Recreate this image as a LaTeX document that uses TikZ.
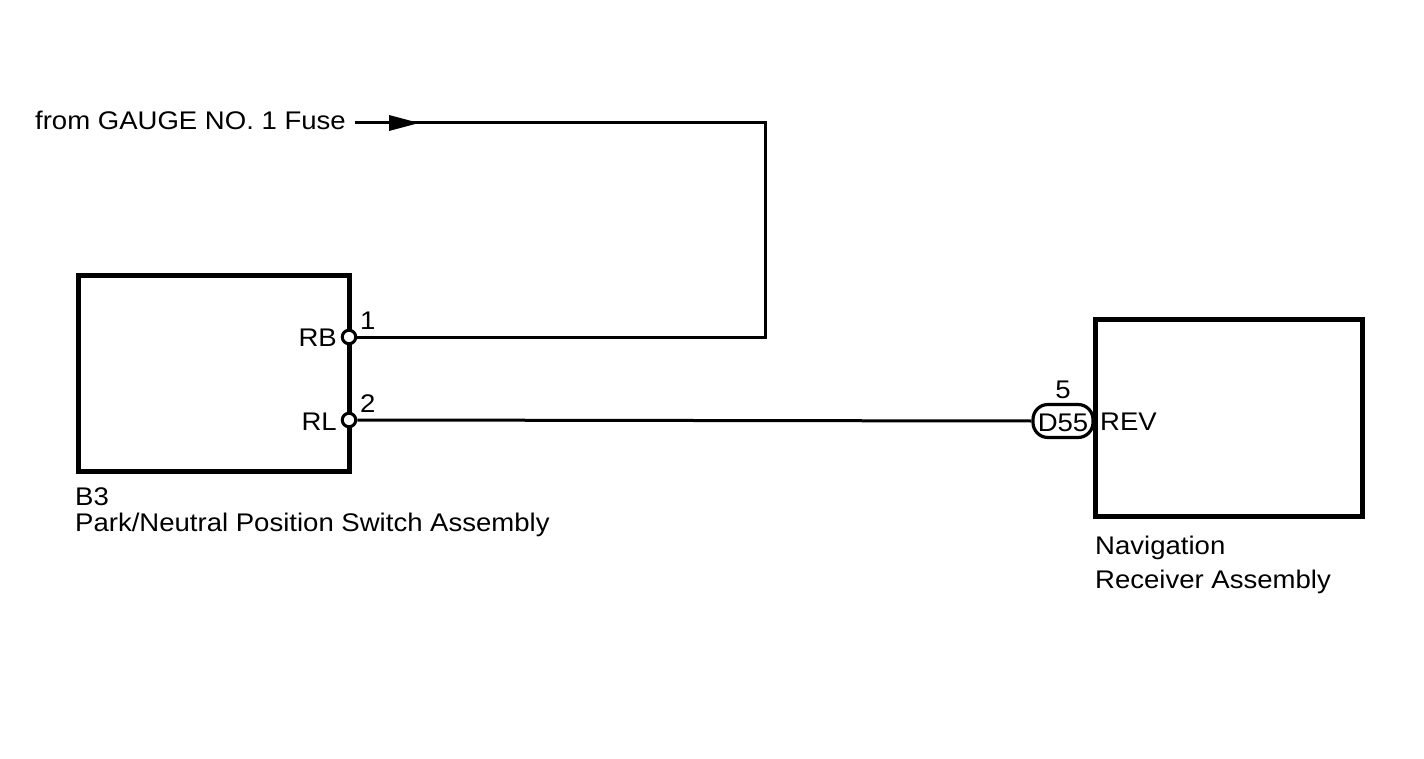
\documentclass[tikz,border=0pt]{standalone}
\usepackage{fontspec}
\setmainfont[FakeStretch=1.08]{Liberation Sans}
\begin{document}
\begin{tikzpicture}[x=1pt,y=-1pt,
  every node/.style={font=\fontsize{25.5}{30}\selectfont, inner sep=0pt},
  pinno/.style={anchor=base west},
  unitbox/.style={draw, line width=5pt},
  wire/.style={line width=3pt},
  pin/.style={circle, draw, line width=3pt, fill=white, minimum size=13.5pt, inner sep=0pt},
  lbl/.style={anchor=base west},
  conn/.style={draw, line width=3.2pt, rectangle, rounded corners=15pt, minimum width=60pt, minimum height=33pt, inner sep=0pt},
]
\useasboundingbox (0,0) rectangle (1424,759);
% boxes
\draw[unitbox] (78,276) rectangle (349,471);
\draw[unitbox] (1095,319) rectangle (1362,516);
% coordinates
\coordinate (src) at (355,123);
\coordinate (c1) at (765,123);
\coordinate (c2) at (765,337);
% pins and connector
\node[conn] (d55) at (1063,421) {};
\node[pin] (rb) at (349,337) {};
\node[pin] (rl) at (349,420) {};
% wires
\draw[wire] (src) -- (c1) -- (c2) -- (rb.east);
\draw[wire] (rl.east) -- (d55.west);
% arrowhead
\fill (389,115) -- (419,123) -- (389,131) -- cycle;
% texts
\node[anchor=base east] (from) at (346,130) {from GAUGE NO. 1 Fuse};
\node[anchor=base east] at (337,346) {RB};
\node[anchor=base east] at (337,430) {RL};
\node[pinno] at (360,330) {1};
\node[pinno] at (360,412) {2};
\node[anchor=base] at (1063,398) {5};
\node[anchor=base] at (1063,431) {D55};
\node[lbl] at (1100,430) {REV};
\node[lbl] at (75,505) {B3};
\node[lbl] at (75,531) {Park/Neutral Position Switch Assembly};
\node[lbl] at (1095,554) {Navigation};
\node[lbl] at (1095,588) {Receiver Assembly};
\end{tikzpicture}
\end{document}
